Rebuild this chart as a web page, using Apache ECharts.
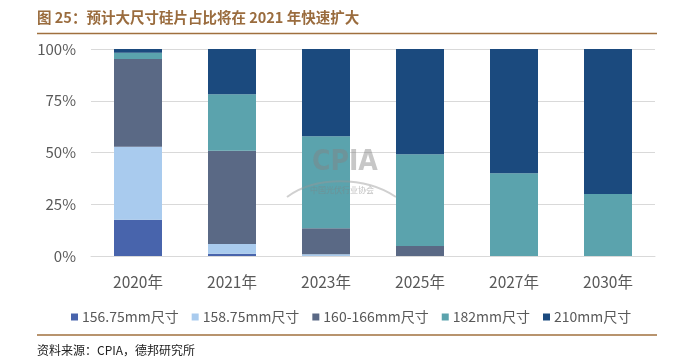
<!DOCTYPE html>
<html><head><meta charset="utf-8">
<script src="https://cdn.jsdelivr.net/npm/echarts@6/dist/echarts.min.js"></script>
<style>html,body{margin:0;padding:0;background:#fff}#c{width:676px;height:363px}</style>
</head><body><div id="c"></div>
<script>
const categories = ['2020年','2021年','2023年','2025年','2027年','2030年'];
const seriesNames = ['156.75mm尺寸','158.75mm尺寸','160-166mm尺寸','182mm尺寸','210mm尺寸'];
const s15675 = [17.5, 1.1, 0, 0, 0, 0];
const s15875 = [35.3, 4.7, 0.8, 0, 0, 0];
const s160166 = [42.4, 45.1, 12.6, 4.8, 0, 0];
const s182 = [3.0, 27.2, 44.4, 44.3, 40, 30];
const s210 = [1.8, 21.9, 42.2, 50.9, 60, 70];
const yTicks = [0, 25, 50, 75, 100];
const colors = ['#4864ac','#a9cbee','#5a6985','#5ba3ad','#1b4a7e'];
const allData = [s15675, s15875, s160166, s182, s210];
const font = '"Noto Sans CJK SC", "Noto Sans", sans-serif';
const chart = echarts.init(document.getElementById('c'));
chart.setOption({
  animation: false,
  color: colors,
  grid: {left: 91, right: 21, top: 49, bottom: 107, containLabel: false},
  legend: {
    data: seriesNames, left: 66, top: 305, itemWidth: 7, itemHeight: 7, itemGap: 13,
    icon: 'rect',
    textStyle: {fontSize: 14, color: '#595959', fontFamily: font, padding: [0,0,0,-1]}
  },
  graphic: [
    {type: 'text', left: 37, top: 10, style: {text: '图 25：预计大尺寸硅片占比将在 2021 年快速扩大', font: 'bold 14.5px ' + font, fill: '#9a6c3e'}},
    {type: 'line', shape: {x1: 37, y1: 33.5, x2: 657, y2: 33.5}, style: {stroke: '#a0703e', lineWidth: 1.5}},
    {type: 'line', shape: {x1: 37, y1: 335, x2: 657, y2: 335}, style: {stroke: '#a0703e', lineWidth: 1.5}},
    {type: 'text', left: 37, top: 344, style: {text: '资料来源：CPIA，德邦研究所', font: '12px ' + font, fill: '#222'}},
    {type: 'text', left: 312, top: 149, z: 100, style: {text: 'CPIA', font: 'bold 28px "DejaVu Sans Condensed", sans-serif', fill: 'rgba(130,130,130,0.45)'}},
    {type: 'bezierCurve', z: 100, shape: {x1: 287, y1: 197, cpx1: 315, cpy1: 176, cpx2: 365, cpy2: 176, x2: 396, y2: 197}, style: {stroke: 'rgba(150,150,150,0.45)', lineWidth: 2, fill: null}},
    {type: 'text', left: 310, top: 186, z: 100, style: {text: '中国光伏行业协会', font: '8px ' + font, fill: 'rgba(130,130,130,0.5)'}}
  ],
  xAxis: {
    type: 'category', data: categories,
    axisLine: {lineStyle: {color: '#d9d9d9'}}, axisTick: {show: false},
    axisLabel: {fontSize: 15.5, color: '#595959', fontFamily: font, margin: 18}
  },
  yAxis: {
    type: 'value', min: 0, max: 100, interval: 25,
    axisLine: {show: false}, axisTick: {show: false},
    splitLine: {lineStyle: {color: '#d9d9d9'}},
    axisLabel: {fontSize: 15, color: '#595959', fontFamily: font, margin: 15,
      formatter: v => yTicks.includes(v) ? v + '%' : ''}
  },
  series: seriesNames.map((n, i) => ({
    name: n, type: 'bar', stack: 'a', barWidth: 48, data: allData[i],
    itemStyle: {color: colors[i]}
  }))
});
</script></body></html>
